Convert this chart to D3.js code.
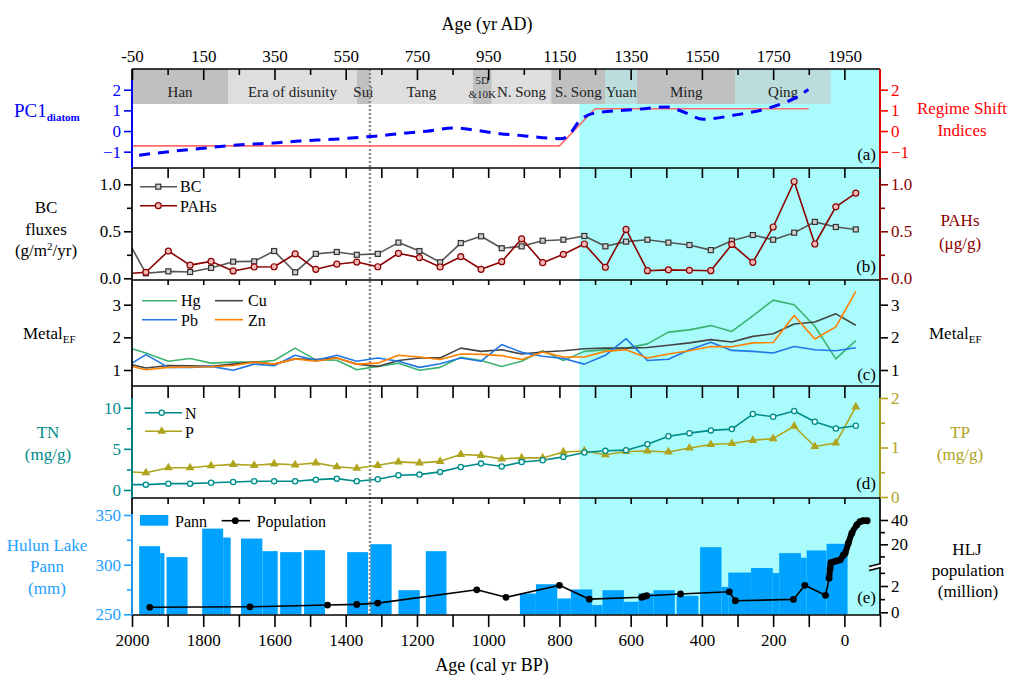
<!DOCTYPE html>
<html><head><meta charset="utf-8">
<script src="https://cdn.jsdelivr.net/npm/d3@7"></script>
<style>body{margin:0;background:#fff} svg{display:block}
svg text{font-family:"Liberation Serif","Times New Roman","DejaVu Serif",serif !important}</style>
</head><body><svg id="c" width="1017" height="684"></svg>
<script>
// ---------------- DATA ----------------
const dynName  = ["Han","Era of disunity","Sui","Tang","5D&10K","N. Song","S. Song","Yuan","Ming","Qing"];
const dynStart = [-50,220,581,618,907,960,1127,1279,1368,1644];   // yr AD
const dynEnd   = [220,581,618,907,960,1127,1279,1368,1644,1912];
const dynDark  = [1,0,1,0,1,0,1,0,1,0];

const pc1Age = [1980,1903,1809,1734,1669,1603,1528,1435,1327,1248,1173,1098,1032,967,911,883,798,780,742,695,593,499,451,396,312,209,134,101];
const pc1Val = [-1.17,-1.01,-0.85,-0.72,-0.64,-0.58,-0.48,-0.40,-0.26,-0.13,-0.01,0.15,0.03,-0.13,-0.21,-0.26,-0.37,-0.29,0.52,0.89,1.03,1.16,0.92,0.57,0.76,1.13,1.64,2.01];
const rsAge = [2000,800,700,100];
const rsVal = [-0.72,-0.72,1.08,1.08];

const ages = [2000,1961,1898,1837,1778,1716,1657,1601,1542,1484,1425,1369,1310,1252,1193,1135,1077,1020,962,906,847,789,730,671,613,553,494,435,375,316,257,200,141,83,24,-32];
const bc   = [0.32,0.053,0.074,0.067,0.11,0.177,0.18,0.29,0.064,0.26,0.28,0.25,0.26,0.38,0.29,0.17,0.375,0.447,0.32,0.34,0.40,0.41,0.45,0.34,0.39,0.41,0.38,0.354,0.30,0.40,0.46,0.41,0.485,0.60,0.546,0.52];
const pahs = [0.053,0.064,0.29,0.14,0.18,0.078,0.12,0.123,0.26,0.096,0.15,0.173,0.123,0.266,0.22,0.12,0.23,0.096,0.177,0.42,0.166,0.255,0.365,0.117,0.52,0.081,0.09,0.085,0.081,0.36,0.17,0.546,1.03,0.365,0.76,0.907];
const hg = [1.65,1.52,1.27,1.35,1.21,1.24,1.24,1.29,1.67,1.31,1.30,1.01,1.11,1.21,0.99,1.08,1.39,1.29,1.11,1.27,1.59,1.29,1.57,1.62,1.67,1.80,2.16,2.23,2.36,2.18,2.66,3.14,3.0,2.34,1.34,1.90];
const pb = [1.21,1.47,1.08,1.08,1.11,0.99,1.18,1.13,1.45,1.30,1.45,1.27,1.37,1.27,1.08,1.19,1.37,1.27,1.78,1.54,1.42,1.35,1.18,1.45,1.96,1.29,1.33,1.62,1.85,1.60,1.57,1.52,1.72,1.62,1.59,1.68];
const cu = [1.16,1.06,1.14,1.13,1.11,1.18,1.24,1.18,1.34,1.32,1.37,1.18,1.11,1.29,1.37,1.37,1.67,1.57,1.62,1.49,1.55,1.59,1.65,1.67,1.67,1.69,1.76,1.83,1.93,1.86,2.03,2.11,2.41,2.47,2.72,2.37];
const zn = [1.11,1.01,1.08,1.09,1.10,1.14,1.24,1.18,1.34,1.27,1.37,1.18,1.21,1.45,1.40,1.32,1.49,1.48,1.44,1.32,1.55,1.40,1.40,1.57,1.62,1.37,1.49,1.59,1.72,1.71,1.83,1.84,2.67,1.95,2.32,3.41];
const tn = [0.65,0.65,0.77,0.77,0.89,0.98,1.06,1.06,1.06,1.26,1.38,1.06,1.30,1.79,1.87,2.20,2.80,3.21,2.85,3.41,3.62,4.02,4.55,4.76,4.84,5.57,6.54,6.91,7.24,7.40,9.23,8.90,9.59,8.29,7.48,7.80];
const tp = [0.505,0.49,0.59,0.59,0.63,0.66,0.64,0.67,0.65,0.69,0.61,0.58,0.64,0.71,0.69,0.72,0.86,0.84,0.77,0.79,0.79,0.91,0.93,0.855,0.92,0.93,0.91,0.99,1.06,1.08,1.145,1.18,1.43,1.02,1.09,1.82];

const pannFrom = [1980,1921,1903,1803,1744,1694,1634,1584,1517,1396,1331,1252,1175,911,866,806,768,708,679,619,578,536,471,405,345,326,262,201,183,122,106,50];
const pannTo   = [1921,1909,1844,1744,1723,1634,1591,1524,1458,1337,1271,1192,1117,866,806,768,708,679,619,578,536,476,410,345,326,262,201,183,122,106,50,-9];
const pannVal  = [318.6,311.6,307.6,336.3,327.3,326.3,313.6,312.6,314.6,312.6,320.6,274.3,313.6,271,280.3,266,275,259.3,274.3,262.6,271,274.3,268.6,317.6,277.6,292,296.6,291.6,311.6,307,314.3,321];

const popAge = [1950,1669,1451,1369,1310,1032,950,800,716,569,563,555,460,323,306,143,111,53,43,40,38,30,22,12,3,-2,-11,-21,-35,-44,-53,-64];
const popVal = [0.38,0.42,0.55,0.60,0.70,1.71,1.14,2.05,1.00,1.14,1.20,1.26,1.39,1.56,0.88,0.98,2.05,1.29,2.58,3.33,4.8,5.6,6.3,7.1,11.0,12.6,20.8,29.1,35.9,38.6,39.4,39.4];

const topTicks = d3.range(-50, 2000, 100);
const topLabels = d3.range(-50, 2000, 200);
const botLabels = d3.range(2000, -1, -200);
const regimeStartBP = 744, tangBP = 1332;

// ---------------- LAYOUT ----------------
const FONT = '"Liberation Serif","Times New Roman","DejaVu Serif",serif';
const X0 = 132, X1 = 880;
const TOP = 69, BOT = 615;
const bounds = [69,168,280,386,498,615];
const svg = d3.select("#c").attr("font-family", FONT);
const x = d3.scaleLinear().domain([2000,-100]).range([X0,X1]);
const xAD = d3.scaleLinear().domain([-50,2050]).range([X0,X1]);

const yA = d3.scaleLinear().domain([-1,2]).range([151.7,89.7]);
const yB = d3.scaleLinear().domain([0,1]).range([278.3,184.3]);
const yC = d3.scaleLinear().domain([1,3]).range([370,304.7]);
const yD = d3.scaleLinear().domain([0,10]).range([490,407.7]);
const yDr = d3.scaleLinear().domain([0,2]).range([497,398]);
const yE = d3.scaleLinear().domain([250,350]).range([614.3,515]);
const yPopLo = d3.scaleLinear().domain([0,2]).range([612.3,586]);
const yPopHi = d3.scaleLinear().domain([20,40]).range([544.3,520]);
const BRK = 3.4;
const yPop = v => v <= BRK ? yPopLo(v) : yPopHi(v);

const C = {blue:"#0000ff", red:"#ff0000", rs:"#ff6a6a", dred:"#8b0000", bc:"#555555",
  hg:"#3cb371", pb:"#2277e6", cu:"#444444", zn:"#ff8000", teal:"#008b8b", olive:"#b0a41e",
  pann:"#00a2ff", pannAx:"#1ea0ff", cyan:"#aafcfc"};

// background shading
svg.append("rect").attr("x", x(regimeStartBP)).attr("y", TOP)
  .attr("width", X1 - x(regimeStartBP)).attr("height", BOT - TOP).attr("fill", C.cyan);

// dynasty bars
const dyn = dynName.map((n,i)=>({n, s:dynStart[i], e:dynEnd[i], dark:dynDark[i]}));
svg.append("g").selectAll("rect").data(dyn).join("rect")
  .attr("x", d=>xAD(d.s)).attr("width", d=>xAD(d.e)-xAD(d.s))
  .attr("y", TOP).attr("height", 35)
  .attr("fill", d=>d.dark ? "#c0c0c0" : "#c8c8c8")
  .attr("fill-opacity", d=>d.dark ? 1 : 0.6);
const dt = svg.append("g").attr("font-size", 15).attr("text-anchor","middle").attr("fill","#222");
dyn.forEach(d=>{
  const cx = (xAD(d.s)+xAD(d.e))/2;
  if (d.n === "5D&10K") {
    dt.append("text").attr("x", cx).attr("y", 84).attr("font-size", 11).text("5D");
    dt.append("text").attr("x", cx).attr("y", 97.5).attr("font-size", 11).text("&10K");
  } else {
    dt.append("text").attr("x", cx).attr("y", 96.5).text(d.n);
  }
});

// Pann bars
const pann = pannVal.map((v,i)=>({a:pannFrom[i], b:pannTo[i], v}));
svg.append("g").selectAll("rect").data(pann).join("rect")
  .attr("x", d=>x(d.a)).attr("width", d=>x(d.b)-x(d.a))
  .attr("y", d=>yE(d.v)).attr("height", d=>yE(250)-yE(d.v)).attr("fill", C.pann);

// dotted line
svg.append("line").attr("x1", x(tangBP)).attr("x2", x(tangBP)).attr("y1", TOP).attr("y2", BOT)
  .attr("stroke", "#8a8a8a").attr("stroke-width", 2.4).attr("stroke-dasharray", "2,2");

// ---------------- SERIES ----------------
function series(yScale, vals, color, w, dash, curve) {
  const data = vals.map((v,i)=>[ages[i], v]);
  return drawLine(data, yScale, color, w, dash, curve);
}
function drawLine(data, yScale, color, w, dash, curve) {
  const ln = d3.line().x(d=>x(d[0])).y(d=>yScale(d[1]));
  if (curve) ln.curve(curve);
  const p = svg.append("path").attr("d", ln(data)).attr("fill","none")
    .attr("stroke", color).attr("stroke-width", w).attr("stroke-linejoin","round");
  if (dash) p.attr("stroke-dasharray", dash);
  return data;
}
// (a)
drawLine(rsAge.map((a,i)=>[a, rsVal[i]]), yA, C.rs, 1.6);
drawLine(pc1Age.map((a,i)=>[a, pc1Val[i]]), yA, C.blue, 3, "11,8", d3.curveMonotoneX);

// (b)
const bcD = series(yB, bc, C.bc, 1.6);
const pahD = series(yB, pahs, C.dred, 1.6);
svg.append("g").selectAll("rect").data(bcD.filter(d=>d[0]<2000)).join("rect")
  .attr("x", d=>x(d[0])-2.5).attr("y", d=>yB(d[1])-2.5).attr("width",5).attr("height",5)
  .attr("fill","#cfcfcf").attr("stroke","#333").attr("stroke-width",1.2);
svg.append("g").selectAll("circle").data(pahD.filter(d=>d[0]<2000)).join("circle")
  .attr("cx", d=>x(d[0])).attr("cy", d=>yB(d[1])).attr("r",3)
  .attr("fill","#f2b8b8").attr("stroke",C.dred).attr("stroke-width",1.2);

// (c)
series(yC, hg, C.hg, 1.6);
series(yC, cu, C.cu, 1.6);
series(yC, pb, C.pb, 1.6);
series(yC, zn, C.zn, 1.6);

// (d)
const tpD = series(yDr, tp, C.olive, 1.6);
const tnD = series(yD, tn, C.teal, 1.6);
const tri = d3.symbol().type(d3.symbolTriangle).size(34);
svg.append("g").selectAll("path").data(tpD.filter(d=>d[0]<2000)).join("path")
  .attr("d", tri).attr("transform", d=>`translate(${x(d[0])},${yDr(d[1])})`).attr("fill", C.olive);
svg.append("g").selectAll("circle").data(tnD.filter(d=>d[0]<2000)).join("circle")
  .attr("cx", d=>x(d[0])).attr("cy", d=>yD(d[1])).attr("r",2.6)
  .attr("fill","#e8ffff").attr("stroke",C.teal).attr("stroke-width",1.3);

// (e) population
const popD = popAge.map((a,i)=>[a, popVal[i]]);
drawLine(popD, yPop, "#000", 1.6);
drawLine(popD.filter(d=>d[0]<=45), yPop, "#000", 6, null, d3.curveMonotoneX);
svg.append("g").selectAll("circle").data(popD).join("circle")
  .attr("cx", d=>x(d[0])).attr("cy", d=>yPop(d[1])).attr("r",3.4).attr("fill","#000");

// ---------------- FRAMES & AXES ----------------
const fr = svg.append("g").attr("stroke","#000").attr("stroke-width",1.7);
bounds.forEach(b=>fr.append("line").attr("x1",X0).attr("x2",X1).attr("y1",b).attr("y2",b));
fr.append("line").attr("x1",X0).attr("x2",X0).attr("y1",TOP).attr("y2",BOT);
fr.append("line").attr("x1",X1).attr("x2",X1).attr("y1",TOP).attr("y2",BOT);

function seg(xp, y1, y2, color) {
  svg.append("line").attr("x1",xp).attr("x2",xp).attr("y1",y1).attr("y2",y2)
    .attr("stroke",color).attr("stroke-width",1.8);
}
seg(X0, 80, 168, C.blue);
seg(X1, 69, 168, C.red);
seg(X1, 178, 280, C.dred);
seg(X0, 398, 498, C.teal);
seg(X1, 398, 497, C.olive);
seg(X0, 514, 615, C.pannAx);

function yAxis(scale, side, major, minor, color, fmt) {
  const mk = side === "left" ? d3.axisLeft : d3.axisRight;
  const g = svg.append("g").attr("transform", `translate(${side==="left"?X0:X1},0)`);
  g.call(mk(scale).tickValues(major).tickSize(8).tickPadding(3).tickFormat(fmt));
  g.attr("font-family", FONT).attr("font-size", 17);
  g.select(".domain").remove();
  g.selectAll("line").attr("stroke", color).attr("stroke-width", 1.6);
  g.selectAll("text").attr("fill", color);
  if (minor && minor.length) {
    const g2 = svg.append("g").attr("transform", `translate(${side==="left"?X0:X1},0)`);
    g2.call(mk(scale).tickValues(minor).tickSize(5).tickFormat(()=>""));
    g2.select(".domain").remove();
    g2.selectAll("line").attr("stroke", color).attr("stroke-width", 1.6);
  }
}
const f0 = d3.format("d"), f1 = d3.format(".1f");
yAxis(yA, "left", [-1,0,1,2], [], C.blue, f0);
yAxis(yA, "right", [-1,0,1,2], [], C.red, f0);
yAxis(yB, "left", [0,0.5,1], [0.25,0.75], "#000", f1);
yAxis(yB, "right", [0,0.5,1], [0.25,0.75], C.dred, f1);
yAxis(yC, "left", [1,2,3], [], "#000", f0);
yAxis(yC, "right", [1,2,3], [], "#000", f0);
yAxis(yD, "left", [0,5,10], [2.5,7.5], C.teal, f0);
yAxis(yDr, "right", [0,1,2], [0.5,1.5], C.olive, f0);
yAxis(yE, "left", [250,300,350], [275,325], C.pannAx, f0);
yAxis(yPopLo, "right", [0,2], [1,3], "#000", f0);
yAxis(yPopHi, "right", [20,40], [10,30], "#000", f0);
// axis break marks
const bk = svg.append("g");
bk.append("polygon").attr("points", `${X1-11},566.5 ${X1+1},563.5 ${X1+1},567.5 ${X1-11},570.5`).attr("fill","#fff");
bk.append("line").attr("x1",X1-11).attr("y1",566.5).attr("x2",X1+1).attr("y2",563.5).attr("stroke","#000").attr("stroke-width",1.4);
bk.append("line").attr("x1",X1-11).attr("y1",570.5).attr("x2",X1+1).attr("y2",567.5).attr("stroke","#000").attr("stroke-width",1.4);

// top axis (AD)
const gt = svg.append("g").attr("transform", `translate(0,${TOP})`);
gt.call(d3.axisTop(xAD).tickValues(topTicks).tickSize(-11).tickPadding(7)
  .tickFormat(d=>topLabels.includes(d) ? d : ""));
gt.attr("font-family", FONT).attr("font-size", 17);
gt.select(".domain").remove();
gt.selectAll(".tick line").attr("stroke-width",1.6).attr("y2", d=>topLabels.includes(d) ? 11 : 6);
gt.selectAll("text").attr("fill","#000");

// internal boundary ticks
const innerTicks = d3.range(1900, -1, -100);
[[168,10],[280,5],[386,12],[498,6]].forEach(([b,len])=>{
  const g = svg.append("g").attr("transform", `translate(0,${b})`);
  g.call(d3.axisBottom(x).tickValues(innerTicks).tickSize(len).tickFormat(()=>""));
  g.select(".domain").remove();
  g.selectAll("line").attr("stroke-width",1.6);
});
// bottom axis (BP)
const gb = svg.append("g").attr("transform", `translate(0,${BOT})`);
gb.call(d3.axisBottom(x).tickValues(d3.range(2000,-101,-100)).tickSize(12).tickPadding(7)
  .tickFormat(d=>botLabels.includes(d) ? d : ""));
gb.attr("font-family", FONT).attr("font-size", 17);
gb.select(".domain").remove();
gb.selectAll("line").attr("stroke-width",1.6);
gb.selectAll("text").attr("fill","#000");

// ---------------- TEXT ----------------
function txt(xp, yp, s, opt={}) {
  const t = svg.append("text").attr("x",xp).attr("y",yp).text(s)
    .attr("font-size", opt.size || 17).attr("fill", opt.color || "#000")
    .attr("text-anchor", opt.anchor || "middle");
  return t;
}
txt(487, 30, "Age (yr AD)", {size:18});
txt(492, 671, "Age (cal yr BP)", {size:18});

// left titles
const pc = txt(14, 117, "PC1", {size:19, color:C.blue, anchor:"start"});
pc.append("tspan").attr("dy",4).attr("font-size",11).attr("font-weight","bold").text("diatom");
txt(46, 213, "BC");
txt(46, 235, "fluxes");
const gm = txt(46, 256, "(g/m");
gm.append("tspan").attr("dy",-6).attr("font-size",11).text("2");
gm.append("tspan").attr("dy",6).text("/yr)");
const ml = txt(23, 339, "Metal", {anchor:"start"});
ml.append("tspan").attr("dy",4).attr("font-size",11).text("EF");
txt(48, 438, "TN", {color:C.teal});
txt(48, 460, "(mg/g)", {color:C.teal});
txt(47, 551, "Hulun Lake", {color:C.pannAx});
txt(47, 572, "Pann", {color:C.pannAx});
txt(47, 594, "(mm)", {color:C.pannAx});

// right titles
txt(962, 114, "Regime Shift", {color:C.red});
txt(962, 136, "Indices", {color:C.red});
txt(960, 226, "PAHs", {color:C.dred});
txt(960, 249, "(μg/g)", {color:C.dred});
const mr = txt(929, 339, "Metal", {anchor:"start"});
mr.append("tspan").attr("dy",4).attr("font-size",11).text("EF");
txt(960, 438, "TP", {color:C.olive});
txt(960, 460, "(mg/g)", {color:C.olive});
txt(967, 555, "HLJ");
txt(968, 576, "population");
txt(968, 597, "(million)");

// panel letters
[["(a)",160],["(b)",272],["(c)",380],["(d)",489],["(e)",603]].forEach(([s,yy])=>
  txt(876, yy, s, {anchor:"end"}));

// ---------------- LEGENDS ----------------
const lg = svg.append("g").attr("font-size",16);
function legLine(x1,x2,yy,color){ lg.append("line").attr("x1",x1).attr("x2",x2).attr("y1",yy).attr("y2",yy).attr("stroke",color).attr("stroke-width",1.6); }
function legText(xx,yy,s){ lg.append("text").attr("x",xx).attr("y",yy).text(s).attr("fill","#000"); }
// b
legLine(140,177,186.7,C.bc);
lg.append("rect").attr("x",155.8).attr("y",184.2).attr("width",5).attr("height",5).attr("fill","#cfcfcf").attr("stroke","#333").attr("stroke-width",1.2);
legText(180,192,"BC");
legLine(140,177,205.7,C.dred);
lg.append("circle").attr("cx",158.3).attr("cy",205.7).attr("r",3).attr("fill","#f2b8b8").attr("stroke",C.dred).attr("stroke-width",1.2);
legText(180,211.5,"PAHs");
// c
legLine(142,177,300.7,C.hg); legText(181,306,"Hg");
legLine(215,243,300.7,C.cu); legText(248,306,"Cu");
legLine(142,177,319.7,C.pb); legText(181,326,"Pb");
legLine(215,243,319.7,C.zn); legText(248,326,"Zn");
// d
legLine(145,182,412.7,C.teal);
lg.append("circle").attr("cx",161.7).attr("cy",412.7).attr("r",2.6).attr("fill","#e8ffff").attr("stroke",C.teal).attr("stroke-width",1.3);
legText(185,418.7,"N");
legLine(145,182,431.3,C.olive);
lg.append("path").attr("d",tri).attr("transform","translate(161.7,431.3)").attr("fill",C.olive);
legText(185,438,"P");
// e
lg.append("rect").attr("x",140).attr("y",515).attr("width",28.3).attr("height",10.7).attr("fill",C.pann);
legText(175,526.7,"Pann");
legLine(221.7,250,520.7,"#000");
lg.append("circle").attr("cx",235.3).attr("cy",520.7).attr("r",3.4).attr("fill","#000");
legText(256.7,526.7,"Population");
</script></body></html>
